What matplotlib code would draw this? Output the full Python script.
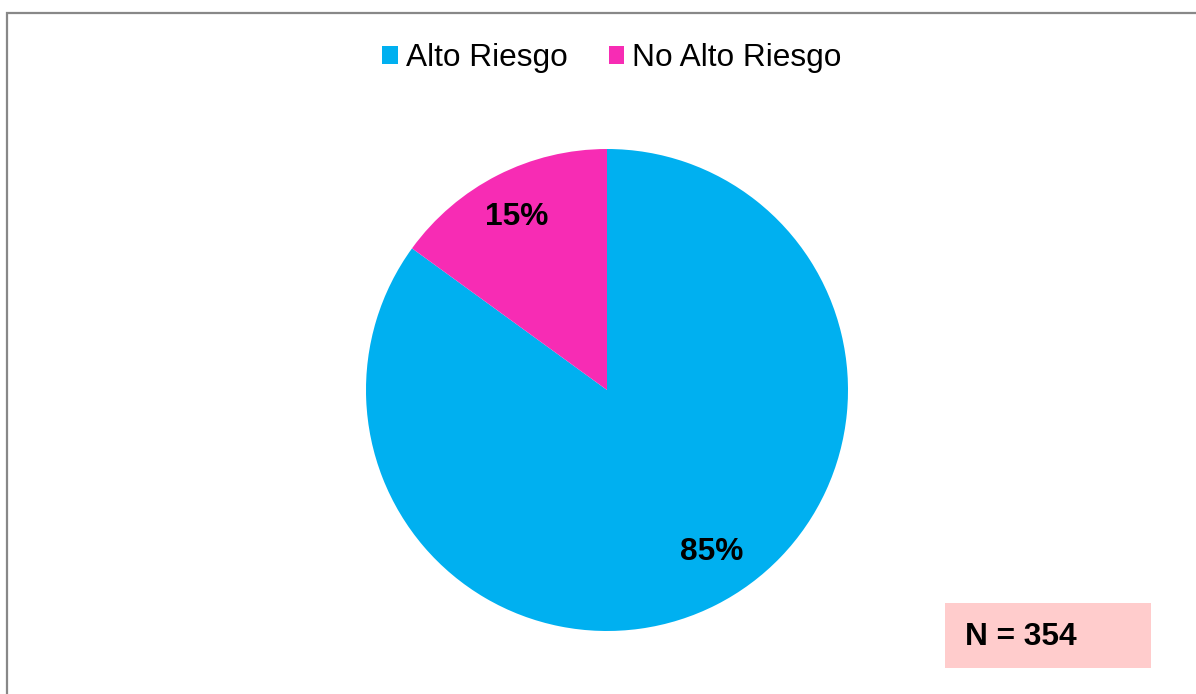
import numpy as np
import matplotlib.pyplot as plt
from matplotlib.patches import Rectangle

labels = ['Alto Riesgo', 'No Alto Riesgo']
values = [85, 15]
colors = ['#00B0F0', '#F72CB4']
n_total = 354

plt.rcParams['font.family'] = ['Liberation Sans', 'DejaVu Sans']
fs = 22.8

fig = plt.figure(figsize=(11.96, 6.94), dpi=100)

# chart area border (only top/left visible in the crop)
fig.patches.append(Rectangle((7 / 1196, -0.1), 1.2, (694 - 13) / 694 + 0.1,
                             transform=fig.transFigure, fill=False,
                             edgecolor='#888888', linewidth=1.6))

ax = fig.add_axes([(607 - 241) / 1196, (694 - 631) / 694, 482 / 1196, 482 / 694])
wedges, texts = ax.pie(values, colors=colors, startangle=90, counterclock=False,
                       radius=1, wedgeprops=dict(linewidth=0))
ax.set_xlim(-1, 1)
ax.set_ylim(-1, 1)
ax.set_aspect('equal')
ax.axis('off')

# percentage labels
label_pos = [(0.435, -0.672), (-0.375, 0.718)]
for v, (lx, ly) in zip(values, label_pos):
    ax.text(lx, ly, f'{v}%', ha='center', va='center', fontsize=fs,
            fontweight='bold', color='black')

fig.legend(wedges, labels, loc='center', bbox_to_anchor=(612 / 1196, 1 - 58 / 694),
           ncol=2, frameon=False, fontsize=fs, handlelength=0.48, handleheight=0.48,
           handletextpad=0.26, columnspacing=1.3)

# N box
fig.patches.append(Rectangle((945 / 1196, 1 - 668 / 694), 206 / 1196, 65 / 694,
                             transform=fig.transFigure, facecolor='#FFCCCC',
                             edgecolor='none'))
fig.text(965 / 1196, 1 - 637 / 694, f'N = {n_total}', ha='left', va='center',
         fontsize=fs, fontweight='bold')

fig.savefig('out.png', dpi=100)
